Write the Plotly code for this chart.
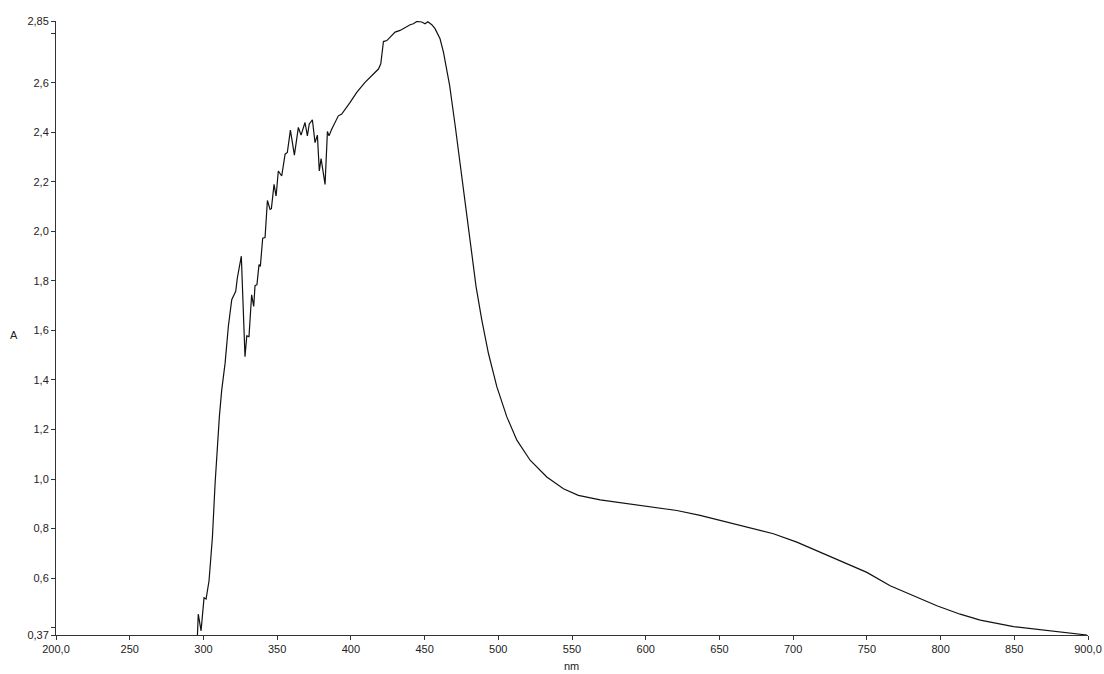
import plotly.graph_objects as go

wavelength_nm = [
    295.8, 296.5, 298.4, 300.4, 301.8, 303.8, 306.1, 307.9, 310.8, 312.4,
    314.7, 316.9, 319.2, 321.9, 323.0, 325.7, 328.2, 329.4, 330.9, 332.7,
    334.1, 335.0, 336.3, 337.7, 338.6, 340.2, 341.8, 343.4, 345.2, 346.1,
    347.9, 349.3, 350.8, 353.1, 355.4, 356.9, 359.0, 360.3, 361.7, 364.4,
    366.2, 368.9, 370.5, 371.8, 373.9, 375.7, 377.3, 378.6, 379.8, 382.5,
    384.1, 385.2, 387.0, 391.5, 393.8, 399.5, 404.0, 409.6, 415.3, 418.7,
    420.3, 422.1, 424.4, 426.1, 427.8, 430.0, 433.4, 436.8, 440.2, 442.4,
    444.7, 448.1, 450.3, 452.2, 454.9, 457.1, 460.5, 462.8, 467.0, 470.7,
    474.1, 477.5, 481.3, 484.9, 488.8, 493.3, 499.0, 505.8, 512.6, 521.6,
    532.9, 544.2, 554.3, 569.1, 587.2, 605.2, 621.1, 636.9, 655.0, 673.1,
    686.6, 702.5, 718.3, 734.1, 750.0, 765.8, 783.9, 797.5, 813.3, 826.9,
    849.5, 869.8, 885.7, 899.3,
]
absorbance = [
    0.350, 0.454, 0.387, 0.520, 0.515, 0.589, 0.765, 0.981, 1.251, 1.359,
    1.468, 1.616, 1.724, 1.758, 1.812, 1.900, 1.494, 1.578, 1.575, 1.744,
    1.697, 1.781, 1.785, 1.866, 1.859, 1.973, 1.975, 2.125, 2.089, 2.092,
    2.190, 2.143, 2.244, 2.224, 2.312, 2.319, 2.409, 2.359, 2.308, 2.420,
    2.389, 2.440, 2.386, 2.434, 2.451, 2.359, 2.389, 2.244, 2.294, 2.190,
    2.404, 2.386, 2.413, 2.467, 2.474, 2.521, 2.562, 2.602, 2.636, 2.656,
    2.677, 2.767, 2.771, 2.781, 2.791, 2.805, 2.812, 2.825, 2.835, 2.839,
    2.848, 2.846, 2.839, 2.847, 2.835, 2.819, 2.778, 2.724, 2.590, 2.430,
    2.270, 2.102, 1.944, 1.778, 1.643, 1.508, 1.373, 1.251, 1.157, 1.076,
    1.008, 0.961, 0.934, 0.916, 0.900, 0.884, 0.873, 0.853, 0.826, 0.799,
    0.779, 0.745, 0.704, 0.663, 0.623, 0.569, 0.522, 0.488, 0.454, 0.430,
    0.404, 0.390, 0.380, 0.370,
]

x_tickvals = [200, 250, 300, 350, 400, 450, 500, 550, 600, 650, 700, 750, 800, 850, 900]
x_ticktext = ["200,0", "250", "300", "350", "400", "450", "500", "550", "600",
              "650", "700", "750", "800", "850", "900,0"]
y_tickvals = [0.37, 0.4, 0.6, 0.8, 1.0, 1.2, 1.4, 1.6, 1.8, 2.0, 2.2, 2.4, 2.6, 2.8, 2.85]
y_ticktext = ["0,37", "", "0,6", "0,8", "1,0", "1,2", "1,4", "1,6", "1,8", "2,0",
              "2,2", "2,4", "2,6", "", "2,85"]

fig = go.Figure()
fig.add_trace(go.Scatter(
    x=wavelength_nm, y=absorbance, mode="lines",
    line=dict(color="#111111", width=1.2),
    showlegend=False, hoverinfo="skip",
))

font = dict(family="Liberation Sans, Arial, sans-serif", size=11, color="#222222")

L, R, T, B = 56, 16, 21, 39
W, H = 1104, 674
pw = W - L - R
ph = H - T - B

fig.update_layout(
    width=W, height=H,
    margin=dict(l=L, r=R, t=T, b=B, autoexpand=False),
    paper_bgcolor="white", plot_bgcolor="white",
    font=font,
    xaxis=dict(
        range=[200, 900], tickvals=x_tickvals, ticktext=x_ticktext,
        showgrid=False, zeroline=False, showline=True, linecolor="#333333",
        linewidth=1, ticks="outside", ticklen=4, tickcolor="#333333",
        tickfont=font,
    ),
    yaxis=dict(
        range=[0.37, 2.85], tickvals=y_tickvals, ticktext=y_ticktext,
        showgrid=False, zeroline=False, showline=True, linecolor="#333333",
        linewidth=1, ticks="outside", ticklen=4, tickcolor="#333333",
        tickfont=font,
    ),
    annotations=[
        dict(text="A", x=(13.5 - L) / pw, y=(H - B - 335) / ph,
             xref="paper", yref="paper", xanchor="center", yanchor="middle",
             showarrow=False, font=font),
        dict(text="nm", x=(571 - L) / pw, y=(H - B - 666) / ph,
             xref="paper", yref="paper", xanchor="center", yanchor="middle",
             showarrow=False, font=font),
    ],
)

fig.write_html(
    "out.html",
    config={"displayModeBar": False},
    post_script="document.body.style.margin='0';document.body.style.padding='0';",
)
